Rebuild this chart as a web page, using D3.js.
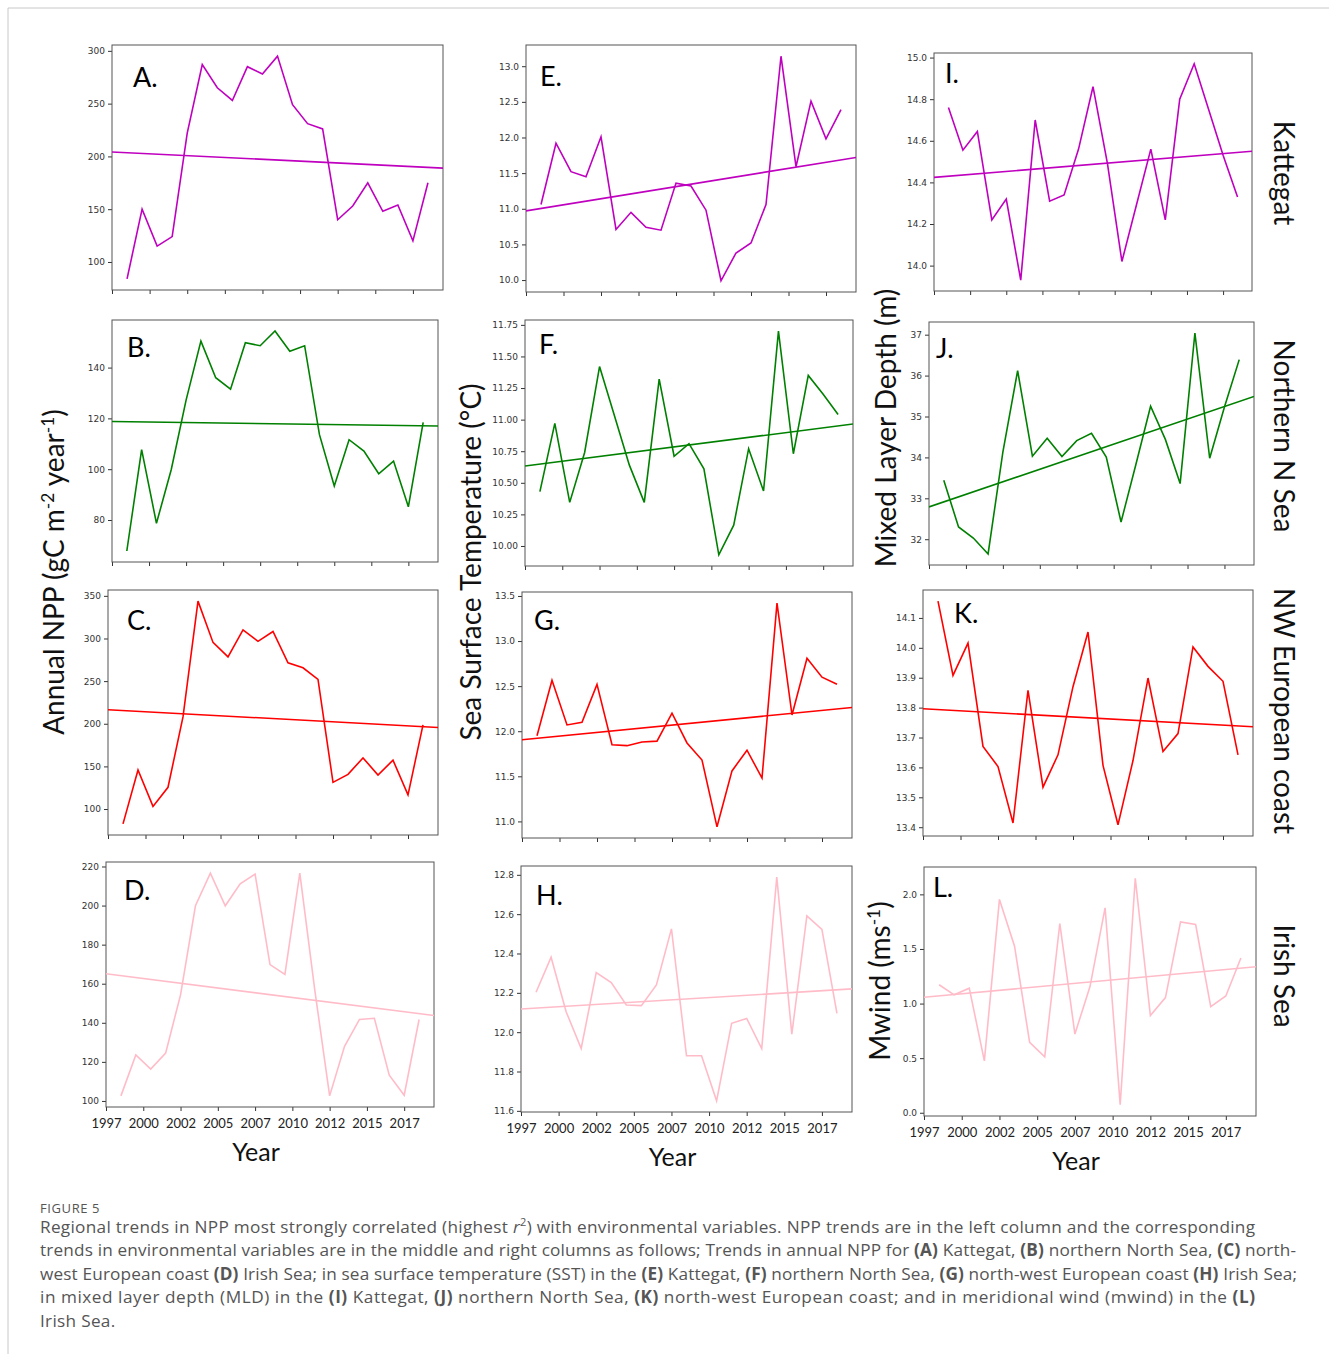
<!DOCTYPE html>
<html><head><meta charset="utf-8">
<script src="https://cdn.jsdelivr.net/npm/d3@7"></script>
<style>body{margin:0;background:#fff}svg{display:block}</style>
</head><body>
<svg id="chart" width="1329" height="1354"></svg>
<script>
// ---------- DATA ----------
const years = d3.range(1998, 2019);
const xDomain = [1997, 2019];
const xTickValues = [1997, 1999.5, 2002, 2004.5, 2007, 2009.5, 2012, 2014.5, 2017];
const xTickLabels = ["1997","2000","2002","2005","2007","2010","2012","2015","2017"];

// NPP (left column)
const nppKattegat = [84,150,115,124,222,287,265,253,285,278,295,249,231,226,140,153,175,148,154,120,175];
const nppNorthernNSea = [67.8,107.7,78.7,99.9,127.2,150.4,136,131.5,149.8,148.6,154.4,146.4,148.6,113.6,93.4,111.6,107.1,98.2,103.2,85.2,118.4];
const nppNWEurope = [82.6,145.7,103.1,125.5,208,343.8,295.4,278.4,310.1,296.6,308.2,271.4,265.6,252.1,131.3,140.6,160,139.9,157.3,116.6,198.7];
const nppIrishSea = [102.6,123.5,116.3,124.5,154.3,199.9,216.6,199.9,211.1,216.1,169.8,164.8,216.6,157,102.6,128,141.7,142.3,113.2,102.9,141.7];
// SST (middle column)
const sstKattegat = [11.06,11.92,11.52,11.45,12.01,10.71,10.95,10.74,10.70,11.36,11.32,10.98,9.99,10.38,10.52,11.06,13.14,11.59,12.51,11.98,12.39];
const sstNorthernNSea = [10.43,10.97,10.345,10.74,11.42,11.03,10.64,10.345,11.32,10.71,10.81,10.61,9.93,10.165,10.77,10.435,11.70,10.73,11.35,11.20,11.04];
const sstNWEurope = [11.95,12.565,12.07,12.10,12.52,11.85,11.84,11.88,11.89,12.20,11.87,11.68,10.94,11.56,11.79,11.48,13.42,12.18,12.81,12.60,12.52];
const sstIrishSea = [12.203,12.381,12.104,11.917,12.303,12.252,12.138,12.135,12.24,12.525,11.88,11.88,11.651,12.045,12.07,11.917,12.788,11.99,12.591,12.523,12.096];
// MLD (right column, rows 1-3) and meridional wind (row 4)
const mldKattegat = [14.76,14.555,14.645,14.22,14.32,13.93,14.70,14.31,14.34,14.56,14.86,14.49,14.02,14.29,14.56,14.22,14.80,14.97,14.75,14.53,14.33];
const mldNorthernNSea = [33.44,32.30,32.03,31.64,34.13,36.12,34.03,34.47,34.02,34.41,34.59,34.01,32.42,33.82,35.25,34.44,33.36,37.04,33.98,35.23,36.39];
const mldNWEurope = [14.156,13.908,14.016,13.67,13.603,13.414,13.858,13.534,13.642,13.87,14.053,13.607,13.408,13.623,13.899,13.653,13.713,14.003,13.938,13.888,13.642];
const mwindIrishSea = [1.172,1.08,1.141,0.475,1.954,1.525,0.644,0.512,1.733,0.721,1.156,1.877,0.074,2.147,0.89,1.055,1.748,1.724,0.972,1.07,1.417];

// Linear trend values at 1997 and 2019
const trendA = [204.2, 188.9], trendB = [118.8, 117.0], trendC = [216.5, 195.6], trendD = [165.1, 143.7];
const trendE = [10.97, 11.72], trendF = [10.633, 10.965], trendG = [11.906, 12.263], trendH = [12.118, 12.22];
const trendI = [14.424, 14.55], trendJ = [32.79, 35.49], trendK = [13.796, 13.736], trendL = [1.058, 1.337];

// Y tick values
const ticksA = [100,150,200,250,300], ticksB = [80,100,120,140], ticksC = [100,150,200,250,300,350], ticksD = [100,120,140,160,180,200,220];
const ticksE = [10.0,10.5,11.0,11.5,12.0,12.5,13.0], ticksF = [10.00,10.25,10.50,10.75,11.00,11.25,11.50,11.75];
const ticksG = [11.0,11.5,12.0,12.5,13.0,13.5], ticksH = [11.6,11.8,12.0,12.2,12.4,12.6,12.8];
const ticksI = [14.0,14.2,14.4,14.6,14.8,15.0], ticksJ = [32,33,34,35,36,37], ticksK = [13.4,13.5,13.6,13.7,13.8,13.9,14.0,14.1], ticksL = [0.0,0.5,1.0,1.5,2.0];

const regionLabels = ["Kattegat", "Northern N Sea", "NW European coast", "Irish Sea"];

// ---------- STYLE / LAYOUT ----------
const MAG = "#bf00bf", GRN = "#008000", RED = "#ff0000", PNK = "#ffbcc8";
const panels = [
  {letter:"A.", v:nppKattegat, t:trendA, ticks:ticksA, fmt:"d", c:MAG, box:[112,45,443,290], lab:[133,87], bottom:false},
  {letter:"E.", v:sstKattegat, t:trendE, ticks:ticksE, fmt:".1f", c:MAG, box:[526,45,856,292], lab:[540,86], bottom:false},
  {letter:"I.", v:mldKattegat, t:trendI, ticks:ticksI, fmt:".1f", c:MAG, box:[934,53,1252,291], lab:[945,83], bottom:false},
  {letter:"B.", v:nppNorthernNSea, t:trendB, ticks:ticksB, fmt:"d", c:GRN, box:[112,320,438,562], lab:[127,357], bottom:false},
  {letter:"F.", v:sstNorthernNSea, t:trendF, ticks:ticksF, fmt:".2f", c:GRN, box:[525,320,853,566], lab:[539,354], bottom:false},
  {letter:"J.", v:mldNorthernNSea, t:trendJ, ticks:ticksJ, fmt:"d", c:GRN, box:[929,322,1254,565], lab:[936,358], bottom:false},
  {letter:"C.", v:nppNWEurope, t:trendC, ticks:ticksC, fmt:"d", c:RED, box:[108,590,438,835], lab:[127,630], bottom:false},
  {letter:"G.", v:sstNWEurope, t:trendG, ticks:ticksG, fmt:".1f", c:RED, box:[522,592,852,838], lab:[534,630], bottom:false},
  {letter:"K.", v:mldNWEurope, t:trendK, ticks:ticksK, fmt:".1f", c:RED, box:[923,590,1253,836], lab:[954,623], bottom:false},
  {letter:"D.", v:nppIrishSea, t:trendD, ticks:ticksD, fmt:"d", c:PNK, box:[106,862,434,1107], lab:[124,900], bottom:true},
  {letter:"H.", v:sstIrishSea, t:trendH, ticks:ticksH, fmt:".1f", c:PNK, box:[521,866,852,1112], lab:[536,905], bottom:true},
  {letter:"L.", v:mwindIrishSea, t:trendL, ticks:ticksL, fmt:".1f", c:PNK, box:[924,867,1256,1116], lab:[933,897], bottom:true}
];

const svg = d3.select("#chart");
const TITLE_FONT = "Lato, 'Open Sans', sans-serif";

// border of the figure
svg.append("line").attr("x1",8).attr("y1",8).attr("x2",1329).attr("y2",8).attr("stroke","#c8c8c8");
svg.append("line").attr("x1",8).attr("y1",8).attr("x2",8).attr("y2",1354).attr("stroke","#c8c8c8");

panels.forEach((p, i) => {
  const [x0, y0, x1, y1] = p.box;
  const ext = d3.extent(p.v);
  const pad = (ext[1] - ext[0]) * 0.05;
  const x = d3.scaleLinear().domain(xDomain).range([x0, x1]);
  const y = d3.scaleLinear().domain([ext[0] - pad, ext[1] + pad]).range([y1, y0]);
  const g = svg.append("g");
  const clipId = "clip" + i;
  svg.append("clipPath").attr("id", clipId).append("rect")
     .attr("x", x0).attr("y", y0).attr("width", x1 - x0).attr("height", y1 - y0);

  // axes
  const yAxis = d3.axisLeft(y).tickValues(p.ticks).tickFormat(d3.format(p.fmt)).tickSize(4).tickPadding(3);
  const ya = g.append("g").attr("transform", `translate(${x0},0)`).call(yAxis);
  ya.select(".domain").remove();
  ya.selectAll("text").attr("font-family", "'DejaVu Sans', sans-serif").attr("font-size", 9).attr("fill", "#333");
  ya.selectAll("line").attr("stroke", "#333");

  const xAxis = d3.axisBottom(x).tickValues(xTickValues).tickSize(4).tickPadding(8)
     .tickFormat((d, k) => p.bottom ? xTickLabels[k] : "");
  const xa = g.append("g").attr("transform", `translate(0,${y1})`).call(xAxis);
  xa.select(".domain").remove();
  xa.selectAll("text").attr("font-family", TITLE_FONT).attr("font-size", 13).attr("fill", "#222");
  xa.selectAll("line").attr("stroke", "#333");

  // frame
  g.append("rect").attr("x", x0).attr("y", y0).attr("width", x1 - x0).attr("height", y1 - y0)
   .attr("fill", "none").attr("stroke", "#555").attr("stroke-width", 1);

  const plot = g.append("g").attr("clip-path", `url(#${clipId})`);
  // trend line
  plot.append("path")
    .datum(xDomain.map((yr, k) => [yr, p.t[k]]))
    .attr("d", d3.line().x(d => x(d[0])).y(d => y(d[1])))
    .attr("fill", "none").attr("stroke", p.c).attr("stroke-width", 1.6);
  // data line
  plot.append("path")
    .datum(years.map((yr, k) => [yr, p.v[k]]))
    .attr("d", d3.line().x(d => x(d[0])).y(d => y(d[1])))
    .attr("fill", "none").attr("stroke", p.c).attr("stroke-width", 1.6).attr("stroke-linejoin", "miter");

  // panel letter
  g.append("text").attr("x", p.lab[0]).attr("y", p.lab[1]).text(p.letter)
   .attr("font-family", TITLE_FONT).attr("font-size", 27).attr("fill", "#000");

  if (p.bottom) {
    g.append("text").attr("x", (x0 + x1) / 2 - 14).attr("y", y1 + 54).attr("text-anchor", "middle")
     .attr("font-family", TITLE_FONT).attr("font-size", 25).attr("fill", "#111").text("Year");
  }
});

// Y-axis titles
function vTitle(xp, yp, rot, parts, size) {
  const t = svg.append("text").attr("transform", `translate(${xp},${yp}) rotate(${rot})`)
    .attr("text-anchor", "middle").attr("font-family", TITLE_FONT).attr("font-size", size).attr("fill", "#111");
  parts.forEach(pt => {
    const ts = t.append("tspan").text(pt[0]);
    if (pt[1]) ts.attr("baseline-shift", "super").attr("font-size", size * 0.62);
  });
  return t;
}
vTitle(64, 572, -90, [["Annual NPP (gC m"], ["-2", true], [" year"], ["-1", true], [")"]], 28);
vTitle(481, 562, -90, [["Sea Surface Temperature (°C)"]], 28);
vTitle(896, 428, -90, [["Mixed Layer Depth (m)"]], 28);
vTitle(890, 981, -90, [["Mwind (ms"], ["-1", true], [")"]], 28);

// Region titles on the right
const regionY = [173, 436, 711, 976];
regionLabels.forEach((r, k) => vTitle(1274, regionY[k], 90, [[r]], 28));

// Caption
const capFont = "'Open Sans', 'Noto Sans', sans-serif";
svg.append("text").attr("x", 40).attr("y", 1213).attr("font-family", capFont).attr("font-size", 13)
   .attr("fill", "#555").attr("letter-spacing", 0.6).text("FIGURE 5");
const captionLines = [
  [["Regional trends in NPP most strongly correlated (highest "], ["r", "i"], ["2", "sup"], [") with environmental variables. NPP trends are in the left column and the corresponding"]],
  [["trends in environmental variables are in the middle and right columns as follows; Trends in annual NPP for "], ["(A)", "b"], [" Kattegat, "], ["(B)", "b"], [" northern North Sea, "], ["(C)", "b"], [" north-"]],
  [["west European coast "], ["(D)", "b"], [" Irish Sea; in sea surface temperature (SST) in the "], ["(E)", "b"], [" Kattegat, "], ["(F)", "b"], [" northern North Sea, "], ["(G)", "b"], [" north-west European coast "], ["(H)", "b"], [" Irish Sea;"]],
  [["in mixed layer depth (MLD) in the "], ["(I)", "b"], [" Kattegat, "], ["(J)", "b"], [" northern North Sea, "], ["(K)", "b"], [" north-west European coast; and in meridional wind (mwind) in the "], ["(L)", "b"]],
  [["Irish Sea."]]
];
const captionWidths = [1215, 1256, 1257, 1215, null];
captionLines.forEach((line, k) => {
  const t = svg.append("text").attr("x", 40).attr("y", 1233 + k * 23.4)
    .attr("font-family", capFont).attr("font-size", 17.2).attr("fill", "#555");
  if (captionWidths[k]) t.attr("textLength", captionWidths[k]).attr("lengthAdjust", "spacing");
  else t.attr("letter-spacing", 0.3);
  line.forEach(seg => {
    const ts = t.append("tspan").text(seg[0]);
    if (seg[1] === "b") ts.attr("font-weight", "bold");
    if (seg[1] === "i") ts.attr("font-style", "italic");
    if (seg[1] === "sup") ts.attr("baseline-shift", "super").attr("font-size", 11);
  });
});
</script>
</body></html>
